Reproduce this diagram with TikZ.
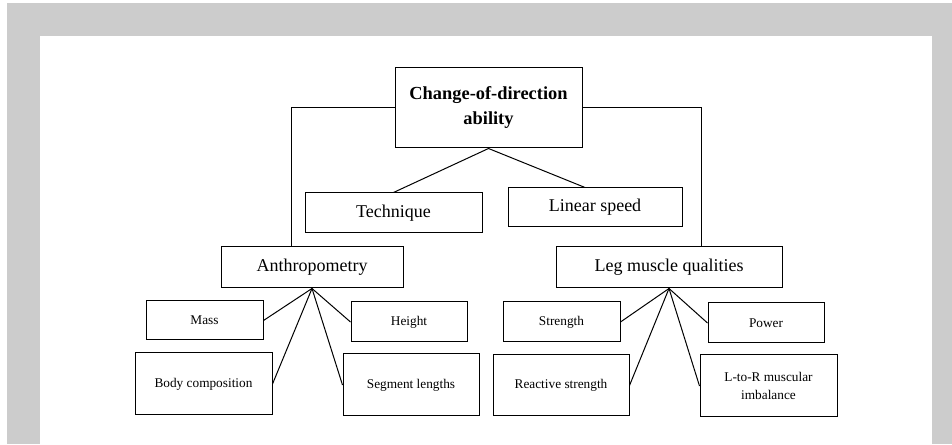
\documentclass[tikz,border=0pt]{standalone}
\usepackage{fontspec}
\setmainfont{Liberation Serif}
\usepackage{tikz}
\newcommand{\factorBox}[6]{%%
  %% One box of the diagram: name, style, position, width, height, text.
  \node[boxStyle,#2,minimum width=#4,minimum height=#5] (#1) at (#3) {#6};
}

\begin{document}
\begin{tikzpicture}[%%
  x=1pt,y=1pt,%%
  boxStyle/.style={draw,line width=1pt,inner sep=0pt,align=center,fill=white},%%
  rootStyle/.style={font=\fontsize{18.4}{25}\selectfont\bfseries},%%
  midStyle/.style={font=\fontsize{18}{22}\selectfont},%%
  leafStyle/.style={font=\fontsize{13.3}{18}\selectfont},%%
  lineStyle/.style={-,line width=1pt}
]
%%
%% The frame.
\useasboundingbox (0,0) rectangle (952,444);
\fill[gray!40] (7,0) rectangle (952,441);
\fill[white] (40,0) rectangle (932,408);
%%
%% The top box.
\factorBox{root}{rootStyle}{488.5,336}{187pt}{80pt}{Change-of-direction\\ability}
%%
%% The middle row.
\factorBox{technique}{midStyle}{393.5,231}{177pt}{40pt}{Technique}
\factorBox{linear}{midStyle}{595,236.5}{174pt}{39pt}{Linear speed}
\factorBox{anthro}{midStyle}{312,176.5}{182pt}{41pt}{Anthropometry}
\factorBox{leg}{midStyle}{669,176.5}{226pt}{41pt}{Leg muscle qualities}
%%
%% The leaves.
\factorBox{mass}{leafStyle}{204.5,123.5}{117pt}{39pt}{Mass}
\factorBox{height}{leafStyle}{409,122}{116pt}{40pt}{Height}
\factorBox{body}{leafStyle}{203.5,60}{137pt}{62pt}{Body composition}
\factorBox{segment}{leafStyle}{411,59}{136pt}{62pt}{Segment lengths}
\factorBox{strength}{leafStyle}{561.5,122}{117pt}{40pt}{Strength}
\factorBox{power}{leafStyle}{766,121}{116pt}{40pt}{Power}
\factorBox{reactive}{leafStyle}{561,58.5}{136pt}{61pt}{Reactive strength}
\factorBox{ltor}{leafStyle}{768.5,58}{137pt}{62pt}{L-to-R muscular\\imbalance}
%%
%% The connectors.
\draw[lineStyle] (root.west) -| ([xshift=-21pt]anthro.north);
\draw[lineStyle] (root.east) -| ([xshift=32pt]leg.north);
\draw[lineStyle] (technique.north) -- (root.south) -- ([xshift=-10pt]linear.north);
\draw[lineStyle] (mass.east) -- (anthro.south) -- (height.west);
\draw[lineStyle] (body.east) -- (anthro.south) -- (segment.west);
\draw[lineStyle] (strength.east) -- (leg.south) -- (power.west);
\draw[lineStyle] (reactive.east) -- (leg.south) -- (ltor.west);
\end{tikzpicture}
\end{document}
